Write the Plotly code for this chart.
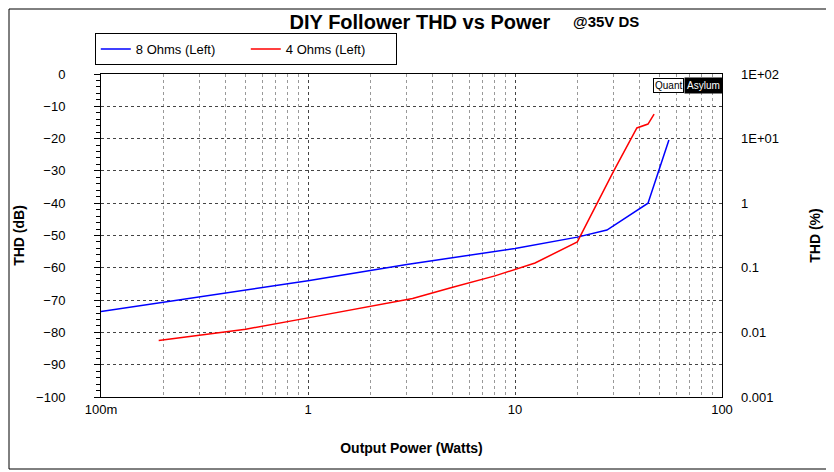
import plotly.graph_objects as go

blue_x = [0.1, 0.3, 1, 3, 10, 20, 27.8, 43.9, 55.4]
blue_y = [-73.5, -69.0, -64.0, -59.0, -54.0, -50.5, -48.3, -40.0, -20.4]
red_x = [0.19, 0.5, 1, 2, 3.2, 5, 8, 12.5, 20, 30, 38.8, 43.9, 47]
red_y = [-82.5, -79.0, -75.5, -72.0, -69.5, -66.0, -62.5, -58.5, -52.0, -30.0, -16.7, -15.5, -12.4]
y_ticks = list(range(0, -101, -10))
right_vals = [100, 10, 1, 0.1, 0.01, 0.001]
right_text = ["1E+02", "1E+01", "1", "0.1", "0.01", "0.001"]
x_ticks = [0.1, 1, 10, 100]
x_text = ["100m", "1", "10", "100"]
x_minor = [m * d for d in (0.1, 1, 10) for m in range(2, 10)]

L, T, W, H = 93, 66, 621, 323
fig = go.Figure()
fig.add_trace(go.Scatter(x=blue_x, y=blue_y, mode="lines", name="8 Ohms (Left)", line=dict(color="#0000ff", width=1.5)))
fig.add_trace(go.Scatter(x=red_x, y=red_y, mode="lines", name="4 Ohms (Left)", line=dict(color="#ff0000", width=1.5)))
fig.add_trace(go.Scatter(x=[1], y=[0.01], yaxis="y2", mode="markers", marker=dict(opacity=0), showlegend=False, hoverinfo="skip"))

fig.update_layout(
    width=834, height=472, plot_bgcolor="white", paper_bgcolor="white",
    margin=dict(l=L, r=834 - L - W, t=T, b=472 - T - H, autoexpand=False),
    font=dict(family="Arial, Liberation Sans", size=13, color="black"),
    title=dict(text="<b>DIY Follower THD vs Power</b>", x=412 / 834, xanchor="center", y=1 - 14 / 472, yanchor="middle", font=dict(size=20)),
    xaxis=dict(type="log", range=[-1, 2], tickvals=x_ticks, ticktext=x_text, showline=True, linecolor="black", mirror=True,
               title=dict(text="<b>Output Power (Watts)</b>", font=dict(size=14), standoff=27), ticks="", automargin=False,
               showgrid=True, gridcolor="#444", griddash="dot", gridwidth=1,
               minor=dict(tickvals=x_minor, showgrid=True, gridcolor="#999", griddash="dot", gridwidth=1)),
    yaxis=dict(range=[-100, 0], tickvals=y_ticks, showline=True, linecolor="black", mirror=True, ticks="outside",
               ticklen=6, tickcolor="black", automargin=False, ticklabelstandoff=26,
               minor=dict(dtick=2, ticks="outside", ticklen=4, tickcolor="black", showgrid=False),
               title=dict(text="<b>THD (dB)</b>", font=dict(size=14), standoff=8), zeroline=False,
               showgrid=True, gridcolor="#444", griddash="dot", gridwidth=1),
    yaxis2=dict(type="log", range=[-3, 2], overlaying="y", side="right", tickvals=right_vals, ticktext=right_text,
                showgrid=False, ticks="", automargin=False, ticklabelstandoff=18,
                title=dict(text="<b>THD (%)</b>", font=dict(size=14), standoff=32)),
    legend=dict(orientation="h", x=-0.01, y=1.028, xanchor="left", yanchor="bottom", bordercolor="black", borderwidth=1,
                font=dict(size=13), bgcolor="white", entrywidth=105, itemwidth=30),
    shapes=[dict(type="rect", xref="paper", yref="paper", x0=(1 - L) / W, x1=(823 - L) / W,
                 y0=1 - (461 - T) / H, y1=1 - (1 - T) / H, line=dict(color="black", width=1))],
    annotations=[
        dict(text="<b>@35V DS</b>", xref="paper", yref="paper", x=(605 - 7 - L) / W, y=1 + (T - 14) / H,
             xanchor="center", yanchor="middle", showarrow=False, font=dict(size=15)),
        dict(text="Quant", xref="paper", yref="paper", x=0.939, y=0.963, xanchor="right", yanchor="middle", showarrow=False,
             font=dict(size=10, color="black"), bgcolor="white", bordercolor="black", borderwidth=1, borderpad=1),
        dict(text="Asylum", xref="paper", yref="paper", x=0.939, y=0.963, xanchor="left", yanchor="middle", showarrow=False,
             font=dict(size=10, color="white"), bgcolor="black", borderpad=2),
    ],
)
fig.write_html("out.html")
